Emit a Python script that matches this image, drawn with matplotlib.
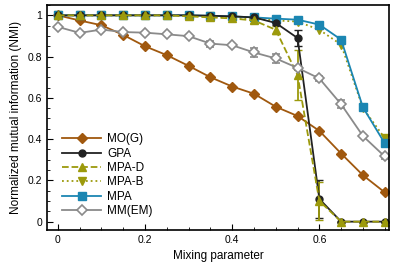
import matplotlib
matplotlib.use("Agg")
import matplotlib.pyplot as plt
from matplotlib.ticker import MultipleLocator
from matplotlib.lines import Line2D

plt.rcParams['font.family'] = ['Liberation Sans', 'DejaVu Sans']

mix = [0, 0.05, 0.1, 0.15, 0.2, 0.25, 0.3, 0.35, 0.4, 0.45, 0.5, 0.55, 0.6, 0.65, 0.7, 0.75]

mog = [1.0, 0.975, 0.952, 0.905, 0.85, 0.807, 0.755, 0.70, 0.655, 0.62, 0.557, 0.512, 0.44, 0.33, 0.225, 0.142]
gpa = [1.0, 1.0, 1.0, 1.0, 1.0, 1.0, 1.0, 0.998, 0.995, 0.99, 0.963, 0.89, 0.11, 0.0, 0.0, 0.0]
gpa_err = [0, 0, 0, 0, 0, 0, 0, 0, 0, 0, 0.01, 0.04, 0.09, 0, 0, 0]
mpad = [1.0, 1.0, 1.0, 1.0, 1.0, 1.0, 0.995, 0.99, 0.985, 0.975, 0.93, 0.71, 0.10, 0.0, 0.0, 0.0]
mpad_err = [0, 0, 0, 0, 0, 0, 0, 0, 0, 0.01, 0.02, 0.12, 0.09, 0, 0, 0]
mpab = [1.0, 1.0, 1.0, 1.0, 1.0, 1.0, 0.998, 0.995, 0.99, 0.985, 0.975, 0.97, 0.93, 0.858, 0.55, 0.405]
mpa = [1.0, 1.0, 1.0, 1.0, 1.0, 1.0, 1.0, 0.998, 0.995, 0.99, 0.984, 0.979, 0.955, 0.882, 0.554, 0.38]
mmem = [0.944, 0.915, 0.931, 0.919, 0.916, 0.908, 0.899, 0.863, 0.855, 0.82, 0.791, 0.745, 0.694, 0.569, 0.415, 0.316]
mmem_err = [0, 0, 0, 0, 0, 0, 0, 0.015, 0.005, 0.02, 0.02, 0.01, 0.01, 0.02, 0.005, 0.01]

labels = ['MO(G)', 'GPA', 'MPA-D', 'MPA-B', 'MPA', 'MM(EM)']
styles = [
    dict(color='#a0580e', marker='D', ms=5, ls='-'),
    dict(color='#222222', marker='o', ms=5, ls='-'),
    dict(color='#9c9a0c', marker='^', ms=6, ls='--'),
    dict(color='#9c9a0c', marker='v', ms=6, ls=':'),
    dict(color='#1b86b2', marker='s', ms=5.5, ls='-'),
    dict(color='#8a8a8a', marker='D', ms=5, ls='-', mfc='white', mew=1.2),
]
series = [mog, gpa, mpad, mpab, mpa, mmem]
errs = [None, gpa_err, mpad_err, None, None, mmem_err]

fig = plt.figure(figsize=(3.95, 2.79), dpi=100)
ax = fig.add_axes([0.119, 0.176, 0.866, 0.806])

handles = []
for ys, err, st, lab in zip(series, errs, styles, labels):
    if err is None:
        ax.plot(mix, ys, lw=1.3, **st)
    else:
        ax.errorbar(mix, ys, yerr=err, lw=1.3, capsize=3, **st)
    handles.append(Line2D([], [], lw=1.3, **st))

ax.set_xlim(-0.025, 0.76)
ax.set_ylim(-0.04, 1.05)
ax.xaxis.set_minor_locator(MultipleLocator(0.05))
ax.yaxis.set_minor_locator(MultipleLocator(0.05))
ax.set_xticks([0, 0.2, 0.4, 0.6])
ax.set_xticklabels(['0', '0.2', '0.4', '0.6'])
ax.set_yticks([0, 0.2, 0.4, 0.6, 0.8, 1.0])
ax.set_yticklabels(['0', '0.2', '0.4', '0.6', '0.8', '1'])
ax.tick_params(which='both', direction='in', top=False, right=False, labelsize=7.5)
ax.tick_params(which='major', length=4)
ax.tick_params(which='minor', length=2)
for s in ax.spines.values():
    s.set_linewidth(1.2)

ax.set_xlabel('Mixing parameter', fontsize=8.5)
ax.set_ylabel('Normalized mutual information (NMI)', fontsize=8.5)

ax.legend(handles, labels, loc='lower left', bbox_to_anchor=(0.02, 0.02), frameon=False,
          fontsize=8.5, handlelength=3.3, labelspacing=0.2, borderpad=0.2, handletextpad=0.5)

fig.savefig('out.png', dpi=100)
